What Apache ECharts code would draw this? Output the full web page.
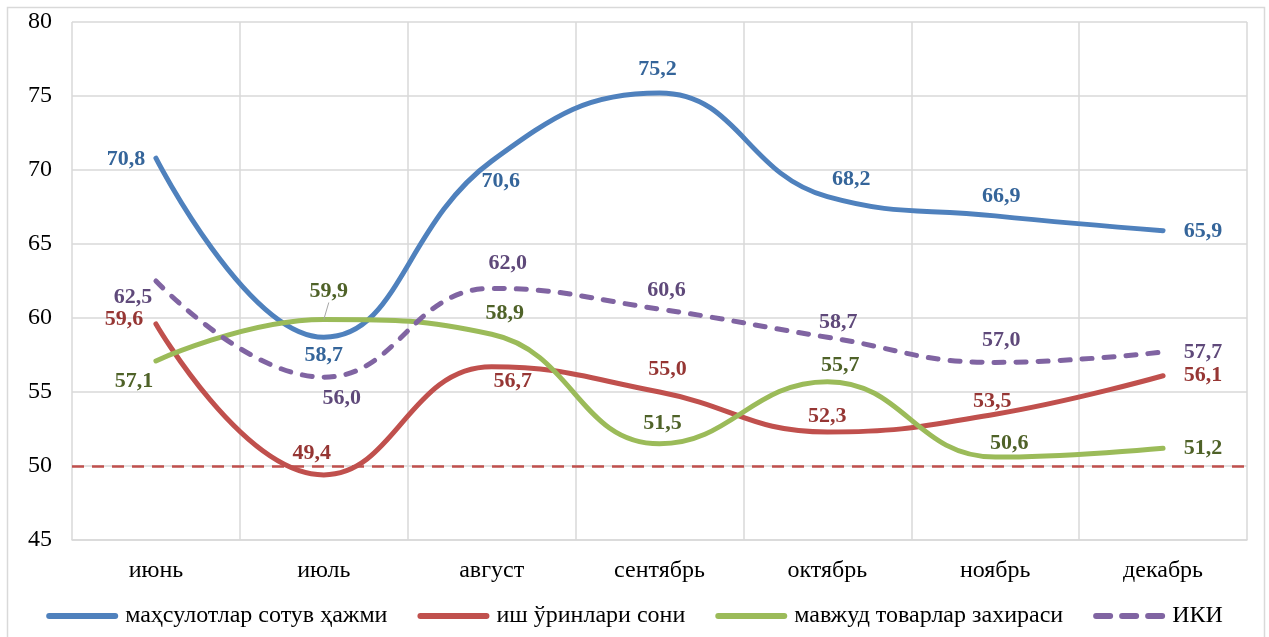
<!DOCTYPE html>
<html><head><meta charset="utf-8">
<script src="https://cdn.jsdelivr.net/npm/echarts@6/dist/echarts.min.js"></script>
<style>html,body{margin:0;padding:0;background:#fff}#c{width:1269px;height:637px}</style>
</head><body><div id="c"></div>
<script>
const categories = ['июнь','июль','август','сентябрь','октябрь','ноябрь','декабрь'];
const seriesNames = ['маҳсулотлар сотув ҳажми','иш ўринлари сони','мавжуд товарлар захираси','ИКИ'];
const salesVolume = [70.8, 58.7, 70.6, 75.2, 68.2, 66.9, 65.9];
const jobs = [59.6, 49.4, 56.7, 55.0, 52.3, 53.5, 56.1];
const inventory = [57.1, 59.9, 58.9, 51.5, 55.7, 50.6, 51.2];
const iki = [62.5, 56.0, 62.0, 60.6, 58.7, 57.0, 57.7];
const threshold = 50;
const yTicks = {min: 45, max: 80, interval: 5};

// label placement offsets (style, not data)
const offsets = [
  [[-30,1],[0,18],[9,20],[-2,-24],[24,-17],[6,-20],[40,1]],
  [[-32,-5],[-12,-22],[21,14],[8,-23],[0,-16],[-3,-13],[40,0]],
  [[-22,20],[5,-28],[13,-21],[3,-20],[13,-16],[14,-14],[40,0]],
  [[-23,16],[18,21],[16,-25],[7,-19],[11,-15],[6,-22],[40,0]]
];
const lineColors = ['#4F81BD','#C0504D','#9BBB59','#8064A2'];
const labelColors = ['#35659A','#963634','#4F6228','#5F497A'];
const FONT = '"Liberation Serif","DejaVu Serif",serif';
const solidIcon = 'path://M3,0 H69 A3,3 0 0 1 69,6 H3 A3,3 0 0 1 3,0 Z';
const dashIcon = 'path://M3,0 H17 A3,3 0 0 1 17,6 H3 A3,3 0 0 1 3,0 Z M29,0 H43 A3,3 0 0 1 43,6 H29 A3,3 0 0 1 29,0 Z M55,0 H69 A3,3 0 0 1 69,6 H55 A3,3 0 0 1 55,0 Z';

const fmt = v => v.toFixed(1).replace('.', ',');

function mkSeries(i, values, dashed) {
  return {
    name: seriesNames[i],
    type: 'line',
    smooth: 0.45,
    smoothConstraint: false,
    symbol: 'circle',
    symbolSize: 0,
    showSymbol: true,
    lineStyle: {color: lineColors[i], width: 5, type: dashed ? [10, 12] : 'solid', cap: 'round'},
    itemStyle: {color: lineColors[i]},
    z: 3,
    data: values.map((v, k) => {
      const d = {
        value: v,
        label: {show: true, position: 'inside', offset: offsets[i][k]}
      };
      if (i === 2 && k === 1) {
        d.labelLine = {show: true, lineStyle: {color: '#a6a6a6', width: 1}};
      }
      return d;
    }),
    label: {
      show: true,
      formatter: p => fmt(p.value),
      color: labelColors[i],
      fontFamily: FONT,
      fontWeight: 'bold',
      fontSize: 22
    }
  };
}

const chart = echarts.init(document.getElementById('c'));
const series = [
  mkSeries(0, salesVolume, false),
  mkSeries(1, jobs, false),
  mkSeries(2, inventory, false),
  mkSeries(3, iki, true)
];
series[1].markLine = {
  silent: true,
  symbol: 'none',
  label: {show: false},
  lineStyle: {color: '#C0504D', width: 2.5, type: [12, 8]},
  data: [{yAxis: threshold}],
  z: 2
};

chart.setOption({
  animation: false,
  backgroundColor: '#fff',
  graphic: [{
    type: 'rect', left: 5, top: 5, silent: true,
    shape: {width: 1257, height: 650},
    style: {fill: 'none', stroke: '#d9d9d9', lineWidth: 1.5}
  }],
  grid: {left: 72, right: 22, top: 22, bottom: 97},
  legend: {
    bottom: 4,
    left: 'center',
    itemWidth: 72,
    itemHeight: 6,
    itemGap: 30,
    textStyle: {fontFamily: FONT, fontSize: 24, color: '#000', padding: [0, 0, 0, 2]},
    data: seriesNames.map((n, i) => ({name: n, icon: i === 3 ? dashIcon : solidIcon}))
  },
  xAxis: {
    type: 'category',
    data: categories,
    boundaryGap: true,
    axisLine: {show: true, lineStyle: {color: '#d9d9d9', width: 1.5}},
    axisTick: {show: false},
    splitLine: {show: true, lineStyle: {color: '#d9d9d9', width: 1.5}},
    axisLabel: {fontFamily: FONT, fontSize: 24, color: '#000', margin: 19}
  },
  yAxis: {
    type: 'value',
    min: yTicks.min, max: yTicks.max, interval: yTicks.interval,
    axisLine: {show: false},
    axisTick: {show: false},
    splitLine: {show: true, lineStyle: {color: '#d9d9d9', width: 1.5}},
    axisLabel: {fontFamily: FONT, fontSize: 24, color: '#000', margin: 20}
  },
  series: series
});
</script>
</body></html>
